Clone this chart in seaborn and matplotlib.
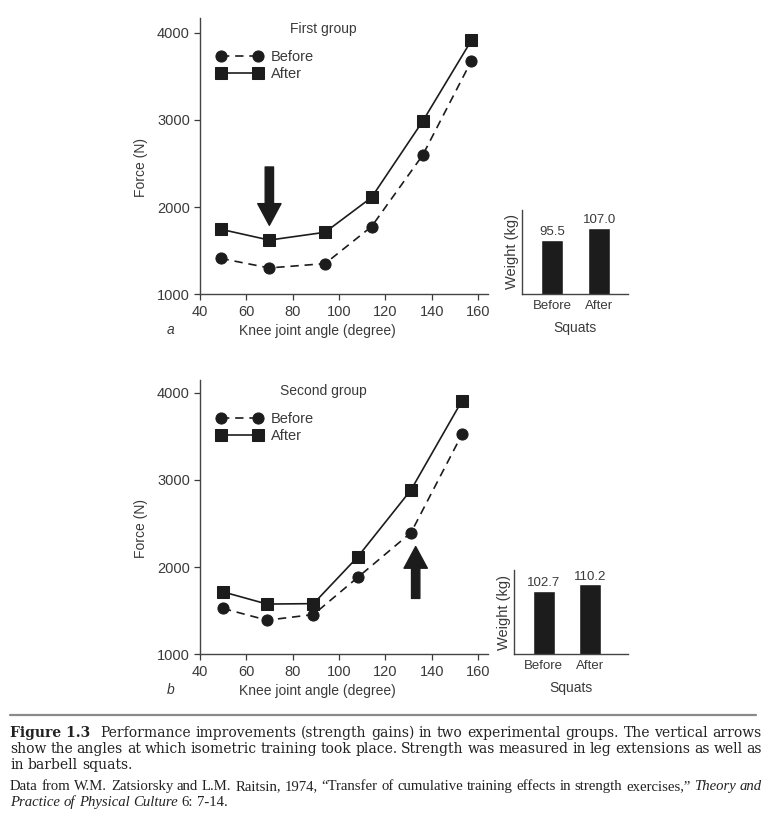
import numpy as np
import pandas as pd
import seaborn as sns
import matplotlib.pyplot as plt

# %% Data
angle_a = [49, 70, 94, 114, 136, 157]
before_a = [1410, 1300, 1350, 1775, 2595, 3680]
after_a = [1745, 1620, 1710, 2110, 2985, 3915]
arrow_a = 70  # training angle, first group

angle_b = [50, 69, 89, 108, 131, 153]
before_b = [1525, 1390, 1455, 1880, 2395, 3525]
after_b = [1715, 1575, 1580, 2115, 2885, 3910]
arrow_b = 133  # training angle, second group

squat_labels = ["Before", "After"]
squats_a = [95.5, 107.0]
squats_b = [102.7, 110.2]

ink = "#1c1c1c"
txt = "#3a3a3a"

sns.set_theme(style="ticks")
plt.rcParams['font.family'] = ['Liberation Sans', 'DejaVu Sans']
plt.rcParams['text.color'] = txt
plt.rcParams['axes.labelcolor'] = txt
plt.rcParams['xtick.color'] = txt
plt.rcParams['ytick.color'] = txt

W, H = 768, 826
fig = plt.figure(figsize=(W / 100, H / 100), dpi=100)


def force_panel(rect, ang, bef, aft, title, letter, arrow_x, arrow_from, arrow_to, ytop):
    ax = fig.add_axes(rect)
    df = pd.DataFrame({"angle": ang, "before": bef, "after": aft})
    sns.lineplot(data=df, x="angle", y="before", ax=ax, color=ink, marker="o",
                 markersize=8, markeredgecolor=ink, linewidth=1.2,
                 linestyle=(0, (5, 3.5)), label="Before")
    sns.lineplot(data=df, x="angle", y="after", ax=ax, color=ink, marker="s",
                 markersize=8.3, markeredgecolor=ink, linewidth=1.2,
                 label="After")
    ax.set_xlim(40, 164)
    ax.set_ylim(1000, ytop)
    ax.set_xticks(np.arange(40, 161, 20))
    ax.set_yticks(np.arange(1000, 4001, 1000))
    ax.tick_params(labelsize=10.5, length=4, width=0.9, pad=3)
    ax.tick_params(axis="x", pad=4)
    for s in ["left", "bottom"]:
        ax.spines[s].set_linewidth(1.0)
        ax.spines[s].set_color("#444444")
    sns.despine(ax=ax)
    ax.set_xlabel("Knee joint angle (degree)", fontsize=10)
    ax.xaxis.set_label_coords(0.41, -0.11)
    ax.set_ylabel("Force (N)", fontsize=10)
    ax.yaxis.set_label_coords(-0.18, 0.46)
    ax.text(0.43, 0.985, title, transform=ax.transAxes, ha="center",
            va="top", fontsize=10)
    ax.text(-0.1, -0.13, letter, transform=ax.transAxes, ha="center",
            va="center", fontsize=10, style="italic")
    ax.legend(loc="upper left", bbox_to_anchor=(0.025, 0.92), frameon=False,
              numpoints=2, handlelength=3.1, handletextpad=0.6,
              labelspacing=0.2, fontsize=10.5, borderpad=0.2)
    ax.annotate("", xy=(arrow_x, arrow_to), xytext=(arrow_x, arrow_from),
                arrowprops=dict(arrowstyle="simple,head_width=1.4,head_length=1.3,tail_width=0.5",
                                color=ink, shrinkA=0, shrinkB=0))
    return ax


def squat_panel(rect, vals, xmax, ylo, yhi):
    ax = fig.add_axes(rect)
    sns.barplot(x=squat_labels, y=vals, ax=ax, color=ink, width=0.47,
                saturation=1)
    ax.set_xlim(-0.64, xmax)
    ax.set_ylim(ylo, yhi)
    ax.set_yticks([])
    ax.tick_params(axis="x", length=0, labelsize=9.5, pad=4)
    for s in ["left", "bottom"]:
        ax.spines[s].set_linewidth(1.0)
        ax.spines[s].set_color("#444444")
    sns.despine(ax=ax)
    ax.bar_label(ax.containers[0], labels=[f"{v:.1f}" for v in vals],
                 fontsize=9.5, padding=1, color=txt)
    ax.set_ylabel("Weight (kg)", fontsize=10.5, labelpad=2)
    ax.set_xlabel("Squats", fontsize=10, labelpad=7)
    return ax


force_panel([0.260, 0.644, 0.375, 0.334], angle_a, before_a, after_a,
            "First group", "a", arrow_a, 2460, 1790, 4170)
squat_panel([0.680, 0.644, 0.138, 0.102], squats_a, 1.62, 43.7, 124)

force_panel([0.260, 0.208, 0.375, 0.332], angle_b, before_b, after_b,
            "Second group", "b", arrow_b, 1640, 2235, 4146)
squat_panel([0.669, 0.208, 0.149, 0.102], squats_b, 1.81, 31.7, 126)

# %% Caption
fig.add_artist(plt.Line2D([10 / W, 756 / W], [1 - 715 / H, 1 - 715 / H],
                          color="#8a8a8a", linewidth=1.6))
renderer = fig.canvas.get_renderer()


def justify(words, ypx, x0px, x1px, props, fill=True):
    # place words one by one, stretching the gaps to fill the line
    texts = []
    for w in words:
        word, style = w if isinstance(w, tuple) else (w, "normal")
        texts.append(fig.text(0, 1 - ypx / H, word, style=style, **props))
    widths = [t.get_window_extent(renderer).width for t in texts]
    space = fig.text(0, 0, "a b", **props)
    sp = space.get_window_extent(renderer).width
    space.set_text("ab")
    sp -= space.get_window_extent(renderer).width
    space.remove()
    gap = (x1px - x0px - sum(widths)) / (len(words) - 1) if fill else sp
    x = x0px
    for t, w in zip(texts, widths):
        t.set_x(x / W)
        x += w + gap


cap = dict(fontsize=10, family=['DejaVu Serif'], color="#222222", va="baseline")
fig.text(10 / W, 1 - 737 / H, "Figure 1.3", weight="bold", **cap)
justify("Performance improvements (strength gains) in two experimental groups. The vertical arrows".split(),
        737, 100, 762, cap)
justify("show the angles at which isometric training took place. Strength was measured in leg extensions as well as".split(),
        753, 10, 762, cap)
justify("in barbell squats.".split(), 769, 10, 762, cap, fill=False)

src = dict(fontsize=10.6, family=['Liberation Serif'], color="#222222", va="baseline")
line1 = "Data from W.M. Zatsiorsky and L.M. Raitsin, 1974, \u201cTransfer of cumulative training effects in strength exercises,\u201d".split()
justify(line1 + [("Theory", "italic"), ("and", "italic")], 790, 10, 762, src)
justify([("Practice", "italic"), ("of", "italic"), ("Physical", "italic"),
         ("Culture", "italic"), "6:", "7-14."], 806, 10, 762, src, fill=False)

plt.savefig("out.png", dpi=100)
